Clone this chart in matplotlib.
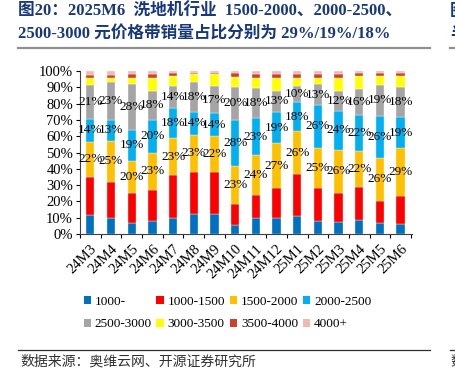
import numpy as np
import matplotlib
matplotlib.use("Agg")
import matplotlib.pyplot as plt
from matplotlib.patches import Patch
from matplotlib.lines import Line2D

categories = ["24M3", "24M4", "24M5", "24M6", "24M7", "24M8", "24M9", "24M10",
              "24M11", "24M12", "25M1", "25M2", "25M3", "25M4", "25M5", "25M6"]
s_1000 = [12, 10, 7, 8, 10, 12, 12, 5.5, 10, 10, 11, 8, 7, 8.5, 6.5, 6]
s_1000_1500 = [23, 22, 18, 19, 26, 26, 26, 13, 14, 18, 26, 20, 18, 20, 14, 17]
s_1500_2000 = [22, 25, 20, 23, 23, 23, 22, 23, 24, 27, 26, 25, 26, 22, 26, 29]
s_2000_2500 = [14, 13, 19, 20, 18, 14, 14, 28, 23, 19, 18, 26, 24, 22, 26, 19]
s_2500_3000 = [21, 23, 28, 18, 14, 18, 17, 20, 18, 13, 10, 13, 12, 16, 19, 18]
s_3000_3500 = [4, 3, 4, 8, 6, 5, 7, 6, 6, 8, 5, 4, 8, 8, 5.5, 7]
s_3500_4000 = [2, 1.5, 2, 2, 2, 1, 1, 2, 2.5, 2, 2, 2, 2, 1.5, 1.5, 1.5]
s_4000p = [2.5, 2.5, 2, 2, 1, 1, 1, 1.5, 2, 2, 2, 2, 2, 1.5, 1.5, 1.5]

series_names = ["1000-", "1000-1500", "1500-2000", "2000-2500",
                "2500-3000", "3000-3500", "3500-4000", "4000+"]
series = [s_1000, s_1000_1500, s_1500_2000, s_2000_2500,
          s_2500_3000, s_3000_3500, s_3500_4000, s_4000p]
colors = ["#0070C0", "#FF0000", "#FFC000", "#00B0F0",
          "#A5A5A5", "#FFFF00", "#D0402F", "#F2B8B0"]
labeled = {2, 3, 4}

serif = ["Liberation Serif", "Noto Sans CJK SC"]
title_color = "#17387A"

fig = plt.figure(figsize=(4.55, 3.8), dpi=100)
ax = fig.add_axes([80 / 455, 1 - 234 / 380, 332 / 455, 163 / 380])

data = np.array(series, dtype=float)
totals = data.sum(axis=0)
frac = data / totals
x = np.arange(len(categories))
bottom = np.zeros(len(categories))
for i, (name, col) in enumerate(zip(series_names, colors)):
    ax.bar(x, frac[i], 0.4, bottom=bottom, color=col, edgecolor="white",
           linewidth=0.25, label=name)
    if i in labeled:
        for xi, b, h, v in zip(x, bottom, frac[i], data[i]):
            ax.text(xi, b + h / 2, f"{v:.0f}%", ha="center", va="center",
                    fontsize=9.5, family=serif, color="black")
    bottom += frac[i]

ax.set_xlim(-0.45, 15.55)
ax.set_ylim(0, 1)
ax.set_yticks(np.arange(0, 1.01, 0.1))
ax.set_yticklabels([f"{int(round(v * 100))}%" for v in np.arange(0, 1.01, 0.1)],
                   family=serif, fontsize=10.5)
ax.set_xticks(x)
ax.set_xticklabels(categories, rotation=45, ha="right", rotation_mode="anchor",
                   family=serif, fontsize=10.5)
ax.set_xticks(np.arange(-0.5, 15.6, 1), minor=True)
ax.tick_params(axis="x", which="major", length=0, pad=6)
ax.tick_params(axis="x", which="minor", length=3, direction="out", width=0.8)
ax.tick_params(axis="y", length=3, direction="out", width=0.8, pad=2)
for s in ["top", "right"]:
    ax.spines[s].set_visible(False)
ax.spines["left"].set_color("#404040")
ax.spines["bottom"].set_color("#404040")

# legend: row-wise order in a column-filled legend
order = [0, 4, 1, 5, 2, 6, 3, 7]
handles = [Patch(facecolor=colors[k], edgecolor="none") for k in order]
names = [series_names[k] for k in order]
fig.legend(handles, names, loc="center", bbox_to_anchor=(0.5, 1 - 313 / 380),
           ncol=4, frameon=False, prop={"family": serif, "size": 9.5},
           handlelength=0.55, handleheight=0.55, handletextpad=0.3,
           columnspacing=0.35, labelspacing=0.8)

# Title
fig.text(18 / 455, 1 - 12 / 380, "图20：2025M6  洗地机行业  1500-2000、2000-2500、",
         ha="left", va="center", fontsize=12, fontweight="bold", family=serif,
         color=title_color)
fig.text(18 / 455, 1 - 35 / 380, "2500-3000 元价格带销量占比分别为 29%/19%/18%",
         ha="left", va="center", fontsize=12, fontweight="bold", family=serif,
         color=title_color)
fig.add_artist(Line2D([18 / 455, 430 / 455], [1 - 47.5 / 380] * 2, color="#909090",
                      lw=1.6, transform=fig.transFigure))
# Source
fig.add_artist(Line2D([18 / 455, 430 / 455], [1 - 350 / 380] * 2, color="#303030",
                      lw=0.9, transform=fig.transFigure))
fig.text(20 / 455, 1 - 362 / 380, "数据来源：奥维云网、开源证券研究所",
         ha="left", va="center", fontsize=10, family=serif, color="#303030")

# neighbouring panel fragments at the right edge
fig.text(450 / 455, 1 - 12 / 380, "图21", ha="left", va="center", fontsize=12,
         fontweight="bold", family=serif, color=title_color)
fig.text(450 / 455, 1 - 35 / 380, "半", ha="left", va="center", fontsize=12,
         fontweight="bold", family=serif, color=title_color)
fig.add_artist(Line2D([450 / 455, 1.0], [1 - 47.5 / 380] * 2, color="#909090",
                      lw=1.6, transform=fig.transFigure))
fig.add_artist(Line2D([450 / 455, 1.0], [1 - 350 / 380] * 2, color="#303030",
                      lw=0.9, transform=fig.transFigure))
fig.text(450 / 455, 1 - 362 / 380, "数", ha="left", va="center", fontsize=10,
         family=serif, color="#303030")

fig.savefig("out.png", dpi=100)
